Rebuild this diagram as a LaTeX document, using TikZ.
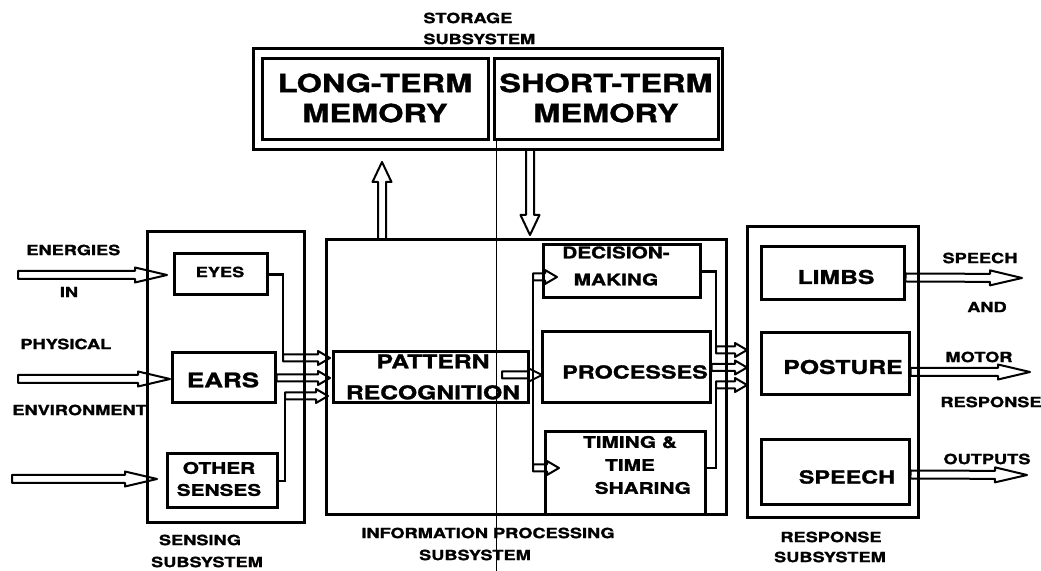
\documentclass[tikz,border=0pt]{standalone}
\usepackage{fontspec}
\setmainfont{TeX Gyre Heros}[FakeStretch=1.3,BoldFeatures={FakeBold=1.4}]
\usetikzlibrary{calc}
\begin{document}
\begin{tikzpicture}[x=0.5pt,y=-0.5pt,
  box/.style={draw,line width=1.5pt,inner sep=0pt},
  conn/.style={line width=1.2pt},
  scan/.style={line width=0.4pt},
  t7/.style={inner sep=0pt,align=center,font=\fontsize{7}{8.5}\selectfont\bfseries},
  t8/.style={inner sep=0pt,align=center,font=\fontsize{8}{11}\selectfont\bfseries},
  t9/.style={inner sep=0pt,align=center,font=\fontsize{9.5}{15.5}\selectfont\bfseries},
  t12/.style={inner sep=0pt,align=center,font=\fontsize{12.5}{15}\selectfont\bfseries},
  hwd/.store in=\hwd, hhd/.store in=\hhd, hld/.store in=\hld,
  hwd=1.75pt, hhd=3.5pt, hld=6pt,
  hollow/.style={line width=1pt,line join=round,to path={
    ($(\tikztostart)!\hwd!90:(\tikztotarget)$)
    -- ($(\tikztotarget)!\hld!(\tikztostart)!\hwd!-90:(\tikztostart)$)
    -- ($(\tikztotarget)!\hld!(\tikztostart)!\hhd!-90:(\tikztostart)$)
    -- (\tikztotarget)
    -- ($(\tikztotarget)!\hld!(\tikztostart)!\hhd!90:(\tikztostart)$)
    -- ($(\tikztotarget)!\hld!(\tikztostart)!\hwd!90:(\tikztostart)$)
    -- ($(\tikztostart)!\hwd!-90:(\tikztotarget)$) -- cycle}},
  big/.style={hollow,hwd=2pt,hhd=3.75pt,hld=16pt},
  vert/.style={hollow,hwd=2pt,hhd=4.75pt,hld=10pt}
]
\useasboundingbox (0,0) rectangle (1041,571);

% scan line
\coordinate (scanT) at (496,140);
\coordinate (scanB) at (496,571);
\draw[scan] (scanT) -- (scanB);

% storage subsystem
\node[box,minimum width=234.5pt,minimum height=50.5pt] (storage) at (487.5,99.5) {};
\node[box,minimum width=113pt,minimum height=40.5pt] (ltm) at (375,99.5) {};
\node[box,minimum width=112pt,minimum height=40.5pt] (stm) at (606,99.5) {};
\node[t12] (ltmT) at (375,98) {LONG-TERM\\MEMORY};
\node[t12] (stmT) at (606,98) {SHORT-TERM\\MEMORY};
\node[t7,anchor=west] (stoA) at (423,18) {STORAGE};
\node[t7,anchor=west] (stoB) at (423,39) {SUBSYSTEM};

% sensing subsystem
\node[box,minimum width=78.5pt,minimum height=145.5pt] (sensing) at (225.5,377.5) {};
\node[box,minimum width=46.5pt,minimum height=20.5pt] (eyes) at (220.5,274.5) {};
\node[box,minimum width=51.5pt,minimum height=25pt] (ears) at (223.5,378) {};
\node[box,minimum width=55pt,minimum height=27pt] (others) at (222,481) {};
\node[t7] (eyesT) at (220,272) {EYES};
\node[t9,font=\fontsize{10}{12}\selectfont\bfseries] (earsT) at (223,380) {EARS};
\node[t8] (othersT) at (219,479) {OTHER\\SENSES};
\node[t7] (senA) at (200,540) {SENSING};
\node[t7] (senB) at (207,562) {SUBSYSTEM};

% inputs
\node[t7,anchor=west] (enA) at (26,250) {ENERGIES};
\node[t7] (enB) at (69,292) {IN};
\node[t7,anchor=west] (enC) at (20,344) {PHYSICAL};
\node[t7,anchor=west] (enD) at (12,410) {ENVIRONMENT};
\coordinate (in1) at (18,275);  \coordinate (in1t) at (167,275);
\coordinate (in2) at (18,379);  \coordinate (in2t) at (170,379);
\coordinate (in3) at (12,479);  \coordinate (in3t) at (157,479);
\draw[big] (in1) to (in1t);
\draw[big] (in2) to (in2t);
\draw[big] (in3) to (in3t);

% information processing subsystem
\node[box,minimum width=200pt,minimum height=137.5pt] (info) at (526,377.5) {};
\node[box,minimum width=97.5pt,minimum height=25.5pt] (pr) at (430.5,377.5) {};
\node[box,minimum width=78.5pt,minimum height=26.5pt] (dm) at (621.5,271.5) {};
\node[box,minimum width=84pt,minimum height=35.5pt] (proc) at (626,367.5) {};
\node[box,minimum width=80pt,minimum height=41.5pt] (timing) at (625,473.5) {};
\node[t9] (prT) at (433,377) {PATTERN\\RECOGNITION};
\node[t8,font=\fontsize{8}{13.5}\selectfont\bfseries] (dmT) at (616,266) {DECISION-\\MAKING};
\node[t9,font=\fontsize{9}{11}\selectfont\bfseries] (procT) at (635,372) {PROCESSES};
\node[t8,font=\fontsize{8}{11.5}\selectfont\bfseries] (timingT) at (630,465) {TIMING \&\\TIME\\\hspace*{1.6em}SHARING};
\node[t7] (infA) at (488,533) {INFORMATION PROCESSING};
\node[t7] (infB) at (475,555) {SUBSYSTEM};

% sensing -> pattern recognition
\coordinate (eyK) at (283,358); \coordinate (pr1) at (330,358);
\coordinate (pr2) at (330,378);
\coordinate (osK) at (285,396); \coordinate (pr3) at (328,396);
\draw[conn] (eyes.east) -| (eyK);
\draw[conn] (others.east) -| (osK);
\draw[hollow] (eyK) to (pr1);
\draw[hollow] (ears.east) to (pr2);
\draw[hollow] (osK) to (pr3);

% pattern recognition -> processes, decision, timing
\coordinate (prOut) at (502,375); \coordinate (procIn) at (542,375);
\draw[hollow,hld=7pt] (prOut) to (procIn);
\coordinate (busT) at (533,277); \coordinate (busB) at (533,468);
\coordinate (dmIn) at (557,277); \coordinate (tmIn) at (559,468);
\draw[conn] (busT) -- (busB);
\draw[hollow] (busT) to (dmIn);
\draw[hollow] (busB) to (tmIn);

% processing -> response
\coordinate (dmK) at (716,350); \coordinate (r1) at (747,350);
\coordinate (r2) at (747,367.5);
\coordinate (tmOut) at (705,468); \coordinate (tmK) at (716,385); \coordinate (r3) at (747,385);
\draw[conn] (dm.east) -| (dmK);
\draw[conn] (tmOut) -| (tmK);
\draw[hollow] (dmK) to (r1);
\draw[hollow] (proc.east) to (r2);
\draw[hollow] (tmK) to (r3);

% storage arrows
\coordinate (upS) at (382,240); \coordinate (upT) at (382,162);
\coordinate (dnS) at (530,150); \coordinate (dnT) at (530,235);
\draw[vert] (upS) to (upT);
\draw[vert] (dnS) to (dnT);

% response subsystem
\node[box,minimum width=85.5pt,minimum height=145.5pt] (resp) at (832.5,372.5) {};
\node[box,minimum width=71.5pt,minimum height=26.5pt] (limbs) at (832.5,273.5) {};
\node[box,minimum width=74pt,minimum height=31pt] (posture) at (835,364) {};
\node[box,minimum width=74pt,minimum height=32.5pt] (speech) at (835,472.5) {};
\node[t9] (limbsT) at (836,277) {LIMBS};
\node[t9] (postureT) at (843,367) {POSTURE};
\node[t9,font=\fontsize{9}{11}\selectfont\bfseries] (speechT) at (847,477) {SPEECH};
\node[t7] (resA) at (831,537) {RESPONSE};
\node[t7] (resB) at (830,557) {SUBSYSTEM};

% outputs
\coordinate (o1) at (1022,278);
\coordinate (o2) at (1030,372);
\coordinate (o3) at (1027,475);
\draw[big] ([yshift=-2pt]limbs.east) to (o1);
\draw[big] ([yshift=-4pt]posture.east) to (o2);
\draw[big] ([yshift=-1pt]speech.east) to (o3);
\node[t7] (ouA) at (980,258) {SPEECH};
\node[t7] (ouB) at (987,307) {AND};
\node[t7] (ouC) at (979,357) {MOTOR};
\node[t7] (ouD) at (991,402) {RESPONSE};
\node[t7] (ouE) at (987,459) {OUTPUTS};
\end{tikzpicture}
\end{document}
